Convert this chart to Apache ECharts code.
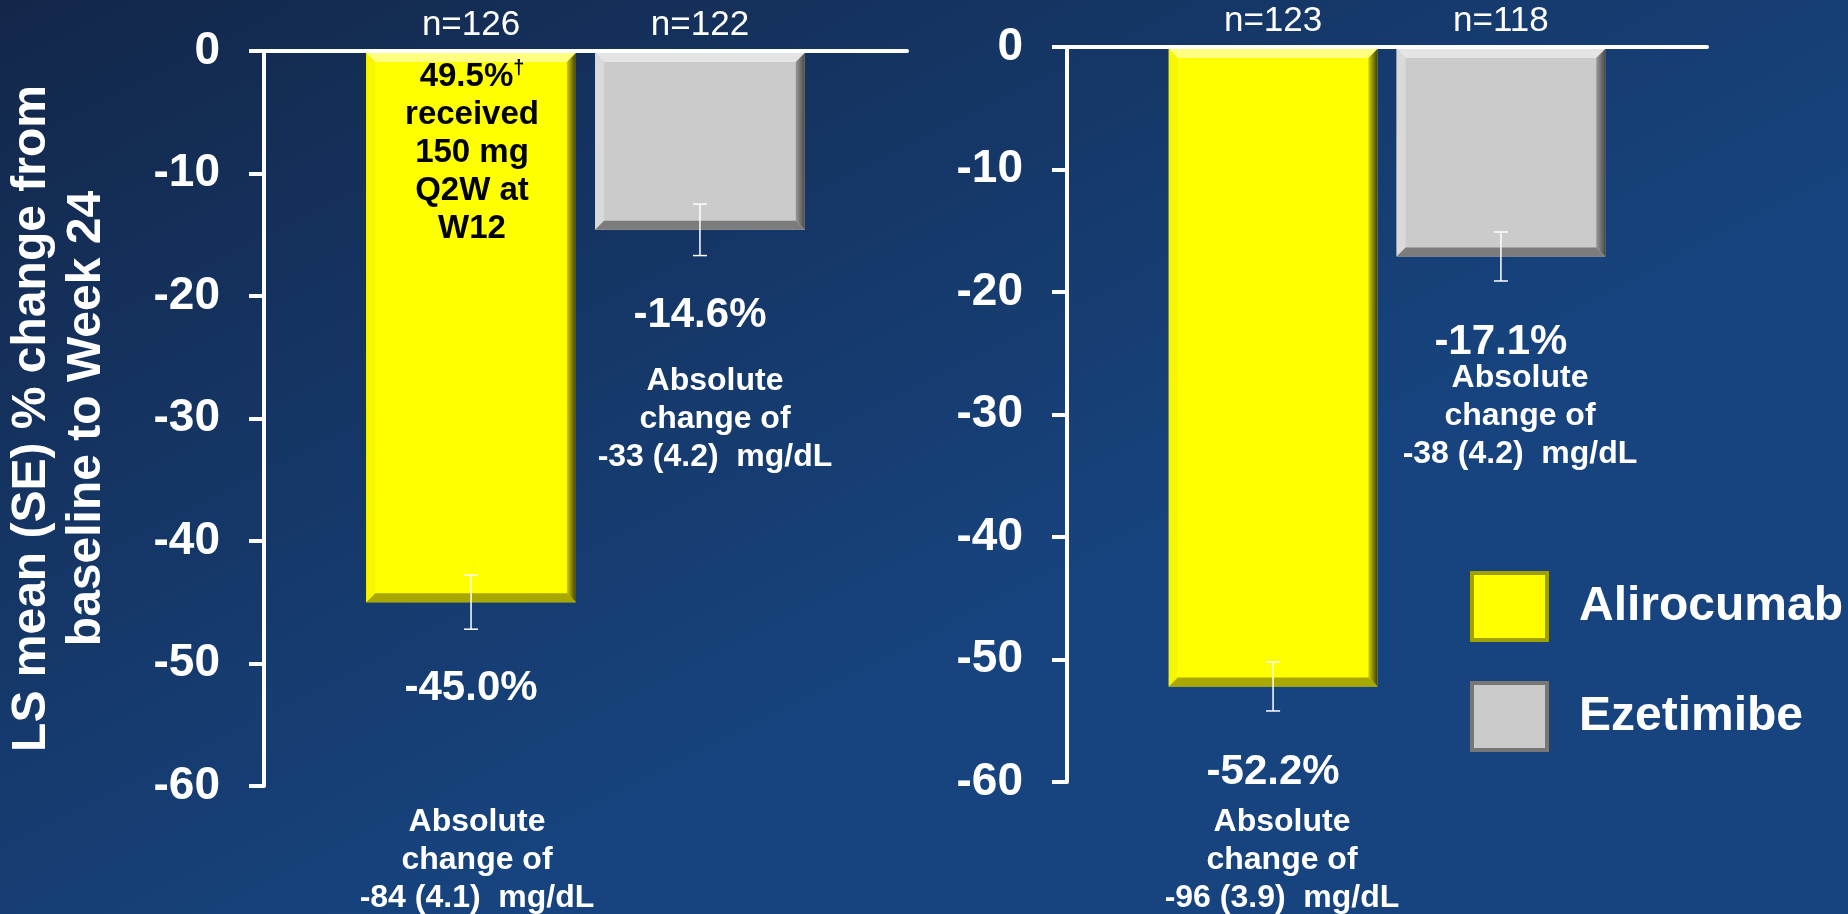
<!DOCTYPE html>
<html>
<head>
<meta charset="utf-8">
<title>LS mean % change from baseline to Week 24</title>
<style>
  html, body { width: 100%; height: 100%; margin: 0; }
  #main { width: 1848px; height: 914px; }
</style>
</head>
<body>
<div id="main"></div>
<script src="https://cdn.jsdelivr.net/npm/echarts@6.0.0/dist/echarts.min.js"></script>
<script>
// ---- data ----
var groups = ['Alirocumab', 'Ezetimibe'];
var leftMean = [-45.0, -14.6];
var leftSE = [2.2, 2.1];
var leftN = [126, 122];
var leftAbs = ['-84 (4.1)  mg/dL', '-33 (4.2)  mg/dL'];
var rightMean = [-52.2, -17.1];
var rightSE = [2.0, 2.0];
var rightN = [123, 118];
var rightAbs = ['-96 (3.9)  mg/dL', '-38 (4.2)  mg/dL'];
var yMin = -60, yMax = 0, yStep = 10;
var yTitle = 'LS mean (SE) % change from\nbaseline to Week 24';
var note = ['49.5%{d|\u2020}', 'received', '150 mg', 'Q2W at', 'W12'];

var FONT = '"Liberation Sans", Arial, sans-serif';
var BAR_FRAC = 0.326, SIDE_FRAC = 0.178, BEVEL = 9;

var palette = {
  Alirocumab: { fill: '#ffff00', top: '#ffff80', left: '#f6f600', right: ['#d0d000', '#404000'], bottom: '#a8a800', border: '#a0a000' },
  Ezetimibe: { fill: '#cbcbcb', top: '#e4e4e4', left: '#dadada', right: ['#9a9a9a', '#4a4a4a'], bottom: '#7c7c7c', border: '#777777' }
};

function barRenderer(name, side) {
  var c = palette[name];
  return function (params, api) {
    var band = api.size([1, 0])[0];
    var base = api.coord([api.value(0), 0]);
    var tip = api.coord([api.value(0), api.value(1)]);
    var cx = base[0] + side * band * SIDE_FRAC;
    var w = band * BAR_FRAC;
    var x0 = cx - w / 2, x1 = cx + w / 2, y0 = base[1] + 2, y1 = tip[1];
    var b = BEVEL;
    var hi = api.coord([api.value(0), api.value(1) + api.value(2)])[1];
    var lo = api.coord([api.value(0), api.value(1) - api.value(2)])[1];
    var cap = 7;
    return {
      type: 'group',
      children: [
        { type: 'rect', shape: { x: x0, y: y0, width: w, height: y1 - y0 }, style: { fill: c.fill } },
        { type: 'polygon', shape: { points: [[x0, y0], [x1, y0], [x1 - b, y0 + b], [x0 + b, y0 + b]] }, style: { fill: c.top } },
        { type: 'polygon', shape: { points: [[x0, y0], [x0 + b, y0 + b], [x0 + b, y1 - b], [x0, y1]] }, style: { fill: c.left } },
        { type: 'polygon', shape: { points: [[x1, y0], [x1, y1], [x1 - b, y1 - b], [x1 - b, y0 + b]] },
          style: { fill: new echarts.graphic.LinearGradient(0, 0, 1, 0, [{ offset: 0, color: c.right[0] }, { offset: 1, color: c.right[1] }]) } },
        { type: 'polygon', shape: { points: [[x0, y1], [x1, y1], [x1 - b, y1 - b], [x0 + b, y1 - b]] }, style: { fill: c.bottom } },
        // SE whisker
        { type: 'line', shape: { x1: cx, y1: hi, x2: cx, y2: lo }, style: { stroke: '#ffffff', lineWidth: 1.5 } },
        { type: 'line', shape: { x1: cx - cap, y1: hi, x2: cx + cap, y2: hi }, style: { stroke: '#ffffff', lineWidth: 1.5 } },
        { type: 'line', shape: { x1: cx - cap, y1: lo, x2: cx + cap, y2: lo }, style: { stroke: '#ffffff', lineWidth: 1.5 } },
        // value label under the bar
        { type: 'text', x: cx, y: tip[1] + 86,
          style: { text: api.value(1).toFixed(1) + '%', fill: '#ffffff', fontSize: 42, fontWeight: 'bold', fontFamily: FONT, align: 'center', verticalAlign: 'middle' } },
        // sample size above the bar
        { type: 'text', x: cx, y: base[1] - 26,
          style: { text: 'n=' + api.value(3), fill: '#ffffff', fontSize: 35, fontFamily: FONT, align: 'center', verticalAlign: 'middle' } }
      ]
    };
  };
}

function barSeries(gridIdx, g, means, ses, ns) {
  return {
    type: 'custom',
    name: groups[g],
    xAxisIndex: gridIdx,
    yAxisIndex: gridIdx,
    itemStyle: { color: palette[groups[g]].fill },
    renderItem: barRenderer(groups[g], g === 0 ? -1 : 1),
    data: [[0, means[g], ses[g], ns[g]]],
    z: 3
  };
}

function yAxisCfg(gridIdx, withName) {
  return {
    type: 'value',
    gridIndex: gridIdx,
    min: yMin, max: yMax, interval: yStep,
    axisLine: { show: true, lineStyle: { color: '#ffffff', width: 4 } },
    axisTick: { show: true, length: 15, lineStyle: { color: '#ffffff', width: 4 } },
    axisLabel: { color: '#ffffff', fontSize: 46, fontWeight: 'bold', fontFamily: FONT, margin: 44 },
    splitLine: { show: false },
    name: withName ? yTitle : '',
    nameLocation: 'middle',
    nameRotate: 90,
    nameGap: 150,
    nameTextStyle: { color: '#ffffff', fontSize: 48, fontWeight: 'bold', fontFamily: FONT, lineHeight: 55 }
  };
}

function xAxisCfg(gridIdx) {
  return {
    type: 'category',
    gridIndex: gridIdx,
    data: ['LDL-C'],
    axisLine: { onZero: true, lineStyle: { color: '#ffffff', width: 4 } },
    axisTick: { show: false },
    axisLabel: { show: false }
  };
}

function absText(x, y, txt) {
  return {
    type: 'text', x: x, y: y, z: 10,
    style: { text: 'Absolute\nchange of\n' + txt, fill: '#ffffff', fontSize: 32, fontWeight: 'bold',
      fontFamily: FONT, lineHeight: 38, align: 'center', verticalAlign: 'top' }
  };
}

var myChart = echarts.init(document.getElementById('main'));

var option = {
  animation: false,
  backgroundColor: new echarts.graphic.LinearGradient(0, 0, 0.25, 1, [
    { offset: 0, color: '#13274a' },
    { offset: 1, color: '#17447f' }
  ]),
  grid: [
    { left: 264, top: 51, width: 643, height: 735, outerBoundsMode: 'none' },
    { left: 1067, top: 47, width: 640, height: 735, outerBoundsMode: 'none' }
  ],
  xAxis: [xAxisCfg(0), xAxisCfg(1)],
  yAxis: [yAxisCfg(0, true), yAxisCfg(1, false)],
  legend: {
    data: [
      { name: 'Alirocumab', itemStyle: { color: palette.Alirocumab.fill, borderColor: palette.Alirocumab.border, borderWidth: 4 } },
      { name: 'Ezetimibe', itemStyle: { color: palette.Ezetimibe.fill, borderColor: palette.Ezetimibe.border, borderWidth: 4 } }
    ],
    orient: 'vertical',
    left: 1465, top: 566,
    icon: 'rect',
    itemWidth: 75, itemHeight: 67, itemGap: 39,
    selectedMode: false,
    textStyle: { color: '#ffffff', fontSize: 48, fontWeight: 'bold', fontFamily: FONT, padding: [0, 0, 0, 27] }
  },
  graphic: [
    {
      type: 'text', x: 472, y: 58, z: 10,
      style: {
        text: note.join('\n'), fill: '#000000', fontSize: 33, fontWeight: 'bold', fontFamily: FONT,
        lineHeight: 38, align: 'center', verticalAlign: 'top',
        rich: { d: { fontSize: 20, fontWeight: 'bold', fontFamily: FONT, fill: '#000000', verticalAlign: 'top', lineHeight: 38 } }
      }
    },
    absText(477, 803, leftAbs[0]),
    absText(715, 362, leftAbs[1]),
    absText(1282, 803, rightAbs[0]),
    absText(1520, 359, rightAbs[1])
  ],
  series: [
    barSeries(0, 0, leftMean, leftSE, leftN),
    barSeries(0, 1, leftMean, leftSE, leftN),
    barSeries(1, 0, rightMean, rightSE, rightN),
    barSeries(1, 1, rightMean, rightSE, rightN)
  ]
};

myChart.setOption(option);
</script>
</body>
</html>
